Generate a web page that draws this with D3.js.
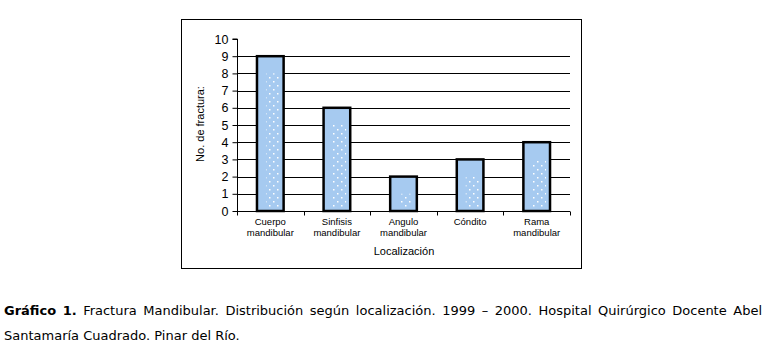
<!DOCTYPE html>
<html>
<head>
<meta charset="utf-8">
<script src="https://cdn.jsdelivr.net/npm/d3@7"></script>
<style>
  html, body { margin: 0; padding: 0; background: #fff; }
  svg { display: block; }
</style>
</head>
<body>
<svg id="chart" width="766" height="355"></svg>
<script>
// ---- data ----
const categories = [["Cuerpo", "mandibular"], ["Sinfisis", "mandibular"], ["Angulo", "mandibular"], ["Cóndito"], ["Rama", "mandibular"]];
const values = [9, 6, 2, 3, 4];
const yTicks = [0, 1, 2, 3, 4, 5, 6, 7, 8, 9, 10];
const yTitle = "No. de fractura:";
const xTitle = "Localización";
const captionLine1 = [["Gráfico", true], ["1.", true], ["Fractura", false], ["Mandibular.", false], ["Distribución", false], ["según", false], ["localización.", false], ["1999", false], ["–", false], ["2000.", false], ["Hospital", false], ["Quirúrgico", false], ["Docente", false], ["Abel", false]];
const captionLine2 = "Santamaría Cuadrado. Pinar del Río.";

const svg = d3.select("#chart");
const axisFont = "'Liberation Sans', Arial, sans-serif";

// outer frame
svg.append("rect").attr("x", 181.5).attr("y", 19.5).attr("width", 400).attr("height", 249)
  .attr("fill", "#fff").attr("stroke", "#000").attr("stroke-width", 1);

const plot = { left: 237, right: 570, top: 39, bottom: 211 };

const x = d3.scaleBand().domain(d3.range(categories.length))
  .range([plot.left, plot.right]).paddingInner(0.6).paddingOuter(0.3);
const xb = d3.scaleBand().domain(d3.range(categories.length))
  .range([plot.left, plot.right]).padding(0);
const y = d3.scaleLinear().domain([0, 10]).range([plot.bottom, plot.top]);

// dot pattern
const defs = svg.append("defs");
const pat = defs.append("pattern").attr("id", "dots").attr("patternUnits", "userSpaceOnUse")
  .attr("width", 8).attr("height", 8);
pat.append("rect").attr("width", 8).attr("height", 8).attr("fill", "#a6caf0");
pat.append("rect").attr("x", 1).attr("y", 1).attr("width", 1.5).attr("height", 1.5).attr("fill", "#fff");
pat.append("rect").attr("x", 5).attr("y", 5).attr("width", 1.5).attr("height", 1.5).attr("fill", "#fff");

// gridlines
svg.append("g").selectAll("line").data(yTicks.filter(d => d > 0 && d < 10)).join("line")
  .attr("x1", plot.left).attr("x2", plot.right)
  .attr("y1", d => Math.round(y(d)) + 0.5).attr("y2", d => Math.round(y(d)) + 0.5)
  .attr("stroke", "#000").attr("stroke-width", 1);

// y axis
const yAxis = d3.axisLeft(y).tickValues(yTicks).tickSize(5).tickPadding(4);
const gy = svg.append("g").attr("transform", `translate(${plot.left + 0.5},0)`).call(yAxis);
gy.select(".domain").attr("d", `M-5,${y(10)}H0V${y(0)}`).attr("stroke", "#000");
gy.selectAll(".tick line").attr("stroke", "#000");
gy.selectAll(".tick text").attr("font-family", axisFont).attr("font-size", 12.5).attr("fill", "#000");

// bars
const bars = svg.append("g");
bars.selectAll("rect.bar").data(values).join("rect").attr("class", "bar")
  .attr("x", (d, i) => x(i)).attr("y", d => y(d))
  .attr("width", x.bandwidth()).attr("height", d => y(0) - y(d))
  .attr("fill", "#a6caf0").attr("stroke", "#000").attr("stroke-width", 2.5);
bars.selectAll("rect.dots").data(values).join("rect").attr("class", "dots")
  .attr("x", (d, i) => x(i) + 9).attr("y", d => y(d - 1))
  .attr("width", x.bandwidth() - 13).attr("height", d => y(0) - y(d - 1) - 2)
  .attr("fill", "url(#dots)");

// x axis
const gx = svg.append("g").attr("transform", `translate(0,${plot.bottom + 0.5})`);
gx.append("line").attr("x1", plot.left).attr("x2", plot.right).attr("stroke", "#000");
const tickXs = d3.range(categories.length).map(i => xb(i)).concat([plot.right]);
gx.selectAll("line.t").data(tickXs).join("line").attr("class", "t")
  .attr("x1", d => Math.round(d) + 0.5).attr("x2", d => Math.round(d) + 0.5)
  .attr("y1", 0).attr("y2", 4).attr("stroke", "#000");

// category labels
const lab = svg.append("g").attr("font-family", axisFont).attr("font-size", 9.5).attr("fill", "#000").attr("text-anchor", "middle");
categories.forEach((lines, i) => {
  const t = lab.append("text").attr("x", x(i) + x.bandwidth() / 2).attr("y", 225);
  lines.forEach((s, k) => t.append("tspan").attr("x", x(i) + x.bandwidth() / 2).attr("dy", k === 0 ? 0 : 11).text(s));
});

// axis titles
svg.append("text").attr("x", 404).attr("y", 255).attr("text-anchor", "middle")
  .attr("font-family", axisFont).attr("font-size", 11).text(xTitle);
svg.append("text").attr("transform", "translate(204,124) rotate(-90)").attr("text-anchor", "middle")
  .attr("font-family", axisFont).attr("font-size", 11).text(yTitle);

// caption (justified first line)
const capFont = "Verdana, 'DejaVu Sans', sans-serif";
const cap = svg.append("g").attr("font-family", capFont).attr("font-size", 13).attr("fill", "#000");
const words = captionLine1.map(([w, b]) => {
  const t = cap.append("text").attr("y", 315).attr("font-weight", b ? "bold" : "normal").text(w);
  return { t, w: t.node().getComputedTextLength() };
});
const left = 4, right = 762;
const total = d3.sum(words, d => d.w);
const gap = (right - left - total) / (words.length - 1);
let cx = left;
words.forEach(d => { d.t.attr("x", cx); cx += d.w + gap; });
cap.append("text").attr("x", left).attr("y", 340).text(captionLine2);
</script>
</body>
</html>
